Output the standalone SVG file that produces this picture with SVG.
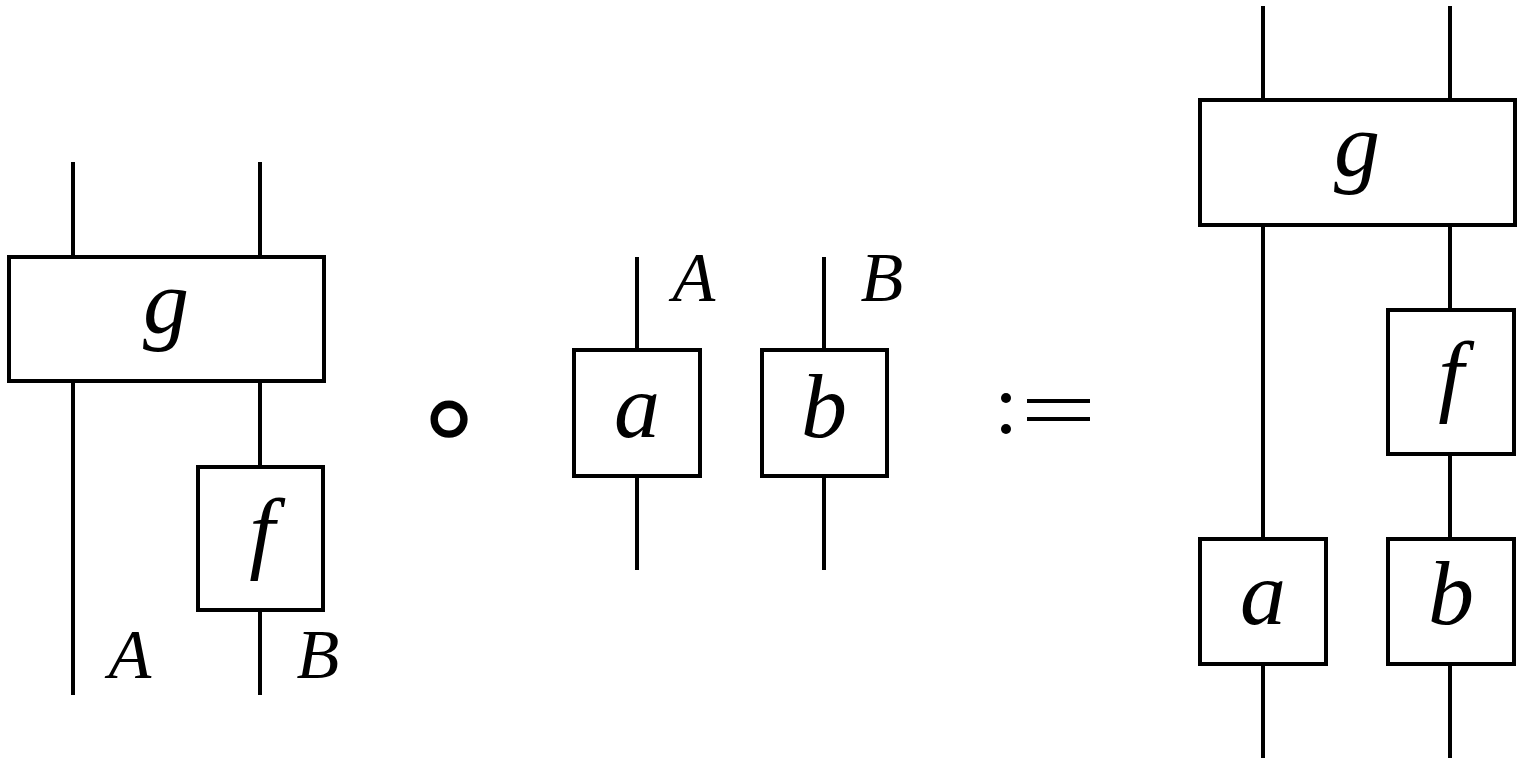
<svg xmlns="http://www.w3.org/2000/svg" width="1524" height="761" viewBox="0 0 1524 761">
<style>
.box{fill:#fff;stroke:#000;stroke-width:4}
.w{stroke:#000;stroke-width:4;fill:none}
.lb{font-family:"Liberation Serif",serif;font-style:italic;font-size:92px;text-anchor:middle;fill:#000}
.wl{font-family:"Liberation Serif",serif;font-style:italic;font-size:70px;text-anchor:middle;fill:#000}
.op{font-family:"DejaVu Sans",sans-serif;font-size:120px;text-anchor:middle;fill:#000}
</style>
<rect width="1524" height="761" fill="#fff"/>
<g id="connectors">
<line class="w" x1="73" y1="162" x2="73" y2="256"/>
<line class="w" x1="260" y1="162" x2="260" y2="256"/>
<line class="w" x1="73" y1="381" x2="73" y2="695"/>
<line class="w" x1="260" y1="381" x2="260" y2="467"/>
<line class="w" x1="260" y1="610" x2="260" y2="695"/>
<line class="w" x1="637" y1="257" x2="637" y2="350"/>
<line class="w" x1="637" y1="476" x2="637" y2="570"/>
<line class="w" x1="824" y1="257" x2="824" y2="350"/>
<line class="w" x1="824" y1="476" x2="824" y2="570"/>
<line class="w" x1="1263" y1="6" x2="1263" y2="100"/>
<line class="w" x1="1450" y1="6" x2="1450" y2="100"/>
<line class="w" x1="1263" y1="225" x2="1263" y2="539"/>
<line class="w" x1="1450" y1="225" x2="1450" y2="310"/>
<line class="w" x1="1450" y1="454" x2="1450" y2="539"/>
<line class="w" x1="1263" y1="664" x2="1263" y2="758"/>
<line class="w" x1="1450" y1="664" x2="1450" y2="758"/>
</g>
<g id="g-left"><rect class="box" x="9" y="257" width="315" height="124"/><text class="lb" x="166" y="333">g</text></g>
<g id="f-left"><rect class="box" x="198" y="467" width="125" height="143"/><text class="lb" x="262" y="562">f</text></g>
<g id="label-A-left"><text class="wl" x="130" y="678">A</text></g>
<g id="label-B-left"><text class="wl" x="318" y="678">B</text></g>
<g id="compose"><text class="op" x="449" y="457">∘</text></g>
<g id="a-mid"><rect class="box" x="574" y="350" width="126" height="126"/><text class="lb" x="637" y="437">a</text></g>
<g id="b-mid"><rect class="box" x="762" y="350" width="125" height="126"/><text class="lb" x="824" y="437">b</text></g>
<g id="label-A-mid"><text class="wl" x="694" y="301">A</text></g>
<g id="label-B-mid"><text class="wl" x="882" y="301">B</text></g>
<g id="defeq">
<circle cx="1006" cy="398" r="5" fill="#000"/>
<circle cx="1006" cy="429" r="5" fill="#000"/>
<line x1="1027" y1="401" x2="1090" y2="401" stroke="#000" stroke-width="4"/>
<line x1="1027" y1="419" x2="1090" y2="419" stroke="#000" stroke-width="4"/>
</g>
<g id="g-right"><rect class="box" x="1200" y="100" width="315" height="125"/><text class="lb" x="1357" y="176">g</text></g>
<g id="f-right"><rect class="box" x="1388" y="310" width="126" height="144"/><text class="lb" x="1451" y="405">f</text></g>
<g id="a-right"><rect class="box" x="1200" y="539" width="126" height="125"/><text class="lb" x="1263" y="624">a</text></g>
<g id="b-right"><rect class="box" x="1388" y="539" width="126" height="125"/><text class="lb" x="1451" y="624">b</text></g>
</svg>
